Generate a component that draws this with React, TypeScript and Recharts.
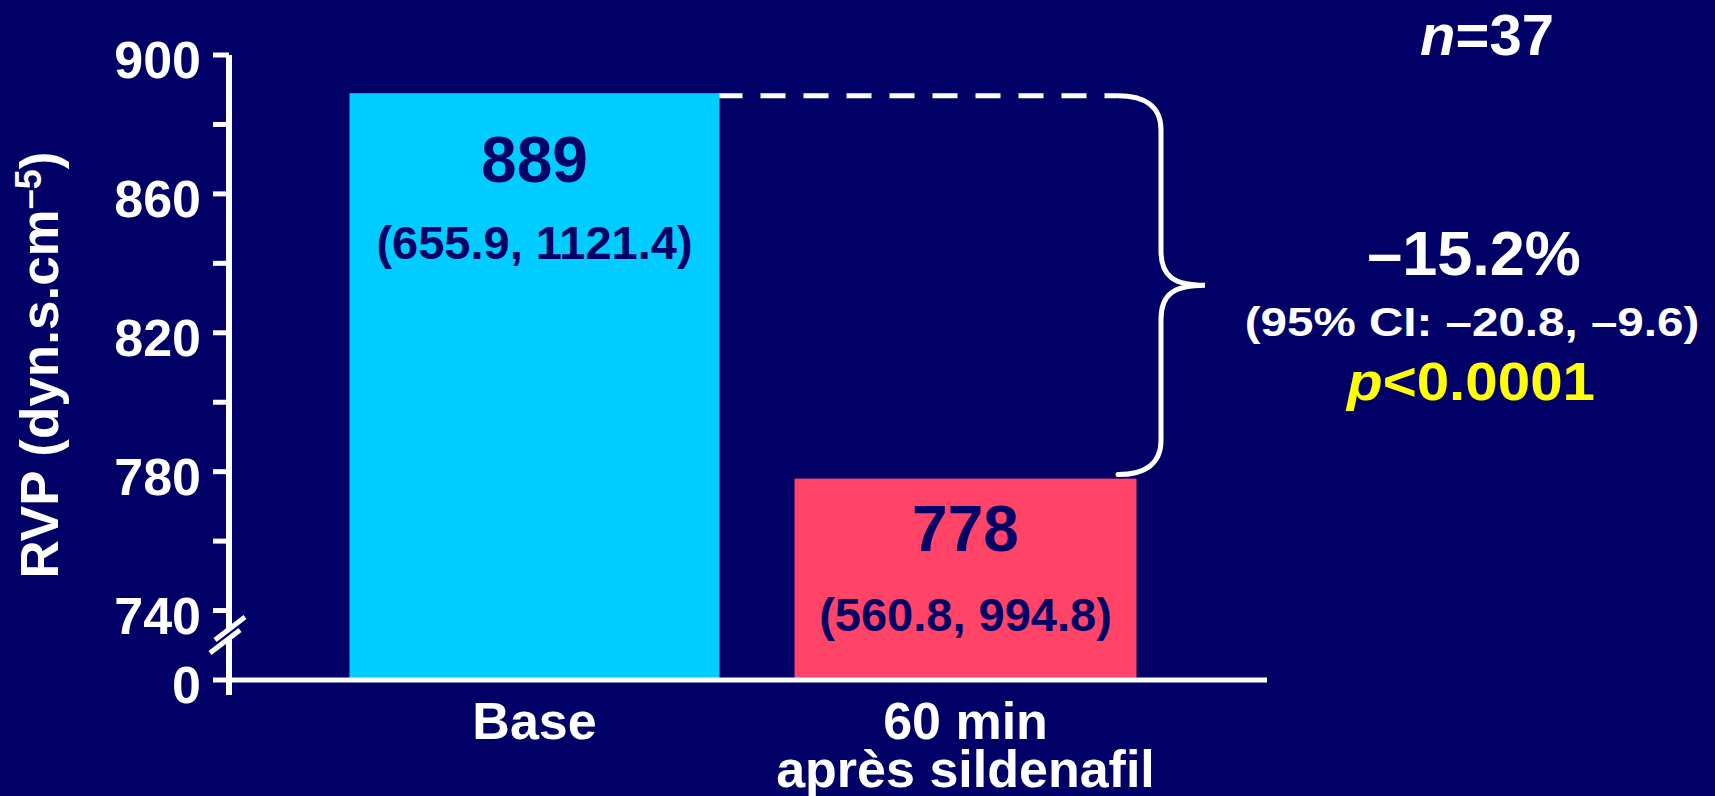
import React from 'react';
import {
  BarChart,
  Bar,
  XAxis,
  YAxis,
  LabelList,
  ReferenceArea,
} from 'recharts';

// RVP before / 60 min after sildenafil (geometric mean, 95% CI)
const categories = ['Base', '60 min après sildenafil'];
const tickLines = [['Base'], ['60 min', 'après sildenafil']];
const meanRvp = [889, 778];
const ciLow = [655.9, 560.8];
const ciHigh = [1121.4, 994.8];

// broken axis: the domain floor (720) is labelled "0"
const yTicks = [720, 740, 760, 780, 800, 820, 840, 860, 880, 900];
const yTickLabels = ['0', '740', '', '780', '', '820', '', '860', '', '900'];

const nPatients = 37;
const pctChange = -15.2;
const pctCiLow = -20.8;
const pctCiHigh = -9.6;
const pValue = '0.0001';

const W = 1715;
const H = 796;
const BG = '#000066';
const INK = '#000066';
const FONT = '"Liberation Sans", Arial, Helvetica, sans-serif';
const BAR_COLORS = ['#00CCFF', '#FF4468'];
const BAR_WIDTHS = [370, 342];
const LABEL_DY = [
  [89, 166],
  [72, 152],
];

const MARGIN = { top: 55, right: 448, bottom: 0, left: 0 };
const Y_AXIS_W = 229;
const X_AXIS_H = 116;
const PAD = { left: 90, right: 86 };
const PLOT_LEFT = MARGIN.left + Y_AXIS_W;
const PLOT_BOTTOM = H - MARGIN.bottom - X_AXIS_H;

const dash = (v: number) => (v < 0 ? '\u2013' + Math.abs(v).toFixed(1) : v.toFixed(1));

const rows = categories.map((c, i) => ({
  label: c,
  rvp: meanRvp[i],
  ci: `(${ciLow[i].toFixed(1)}, ${ciHigh[i].toFixed(1)})`,
}));

const YTick = (props: any) => {
  const { x, y, index } = props;
  const txt = yTickLabels[index];
  if (!txt) return null;
  return (
    <text x={x} y={y + 23} textAnchor="end" fontSize={52} fontWeight="bold" fill="#fff" fontFamily={FONT}>
      {txt}
    </text>
  );
};

const XTick = (props: any) => {
  const { x, y, payload } = props;
  const i = categories.indexOf(payload.value);
  const lines = tickLines[i] || [payload.value];
  return (
    <text x={x} y={y + 59} textAnchor="middle" fontSize={52} fontWeight="bold" fill="#fff" fontFamily={FONT}>
      {lines.map((l, k) => (
        <tspan key={k} x={x} dy={k === 0 ? 0 : 48}>
          {l}
        </tspan>
      ))}
    </text>
  );
};

// bars are narrower than the band and differ in width
const BarShape = (props: any) => {
  const { x, y, width, height, index } = props;
  const cx = x + width / 2;
  const w = BAR_WIDTHS[index];
  return <rect x={cx - w / 2} y={y} width={w} height={height} fill={BAR_COLORS[index]} />;
};

const MeanLabel = (props: any) => {
  const { x, y, width, value, index } = props;
  return (
    <text x={x + width / 2} y={y + LABEL_DY[index][0]} textAnchor="middle" fontSize={64} fontWeight="bold" fill={INK} fontFamily={FONT}>
      {value}
    </text>
  );
};

const CiLabel = (props: any) => {
  const { x, y, width, value, index } = props;
  return (
    <text x={x + width / 2} y={y + LABEL_DY[index][1]} textAnchor="middle" fontSize={47} fontWeight="bold" fill={INK} fontFamily={FONT}>
      {value}
    </text>
  );
};

// dashed leader from the Base bar plus curly brace down to the second bar.
// The area spans the padded category range, so x..x+width covers both bands.
const Brace = (props: any) => {
  const { x, y, width, height } = props;
  const right = x + width + PAD.right;
  const band = width / 2;
  const leaderStart = x + band / 2 + BAR_WIDTHS[0] / 2 - 2;
  const xs = right - 149;
  const xv = xs + 43;
  const xt = xs + 87;
  const yt = y + 2.5;
  const yb = y + height - 4;
  const ym = (yt + yb) / 2;
  const r = 34;
  const d = [
    `M ${xs} ${yt}`,
    `C ${xs + 26} ${yt} ${xv} ${yt + 10} ${xv} ${yt + r}`,
    `L ${xv} ${ym - r}`,
    `C ${xv} ${ym - 8} ${xt - 30} ${ym} ${xt} ${ym}`,
    `C ${xt - 30} ${ym} ${xv} ${ym + 8} ${xv} ${ym + r}`,
    `L ${xv} ${yb - r}`,
    `C ${xv} ${yb - 10} ${xs + 26} ${yb} ${xs} ${yb}`,
  ].join(' ');
  return (
    <g>
      <line x1={leaderStart} y1={yt} x2={xs - 1} y2={yt} stroke="#fff" strokeWidth={5} strokeDasharray="25 18" />
      <path d={d} fill="none" stroke="#fff" strokeWidth={5} strokeLinecap="round" />
    </g>
  );
};

export default function App() {
  const bx = PLOT_LEFT;
  const by = PLOT_BOTTOM - 45;
  return (
    <div style={{ position: 'absolute', left: 0, top: 0, width: W, height: H, background: BG, fontFamily: FONT }}>
      <BarChart width={W} height={H} data={rows} margin={MARGIN} barCategoryGap={0}>
        <XAxis
          dataKey="label"
          height={X_AXIS_H}
          padding={PAD}
          tickLine={false}
          tickSize={0}
          tickMargin={0}
          interval={0}
          axisLine={{ stroke: '#fff', strokeWidth: 5 }}
          tick={<XTick />}
        />
        <YAxis
          type="number"
          width={Y_AXIS_W}
          domain={[720, 900]}
          ticks={yTicks}
          interval={0}
          tickSize={16}
          tickMargin={12}
          tickLine={{ stroke: '#fff', strokeWidth: 5 }}
          axisLine={{ stroke: '#fff', strokeWidth: 6 }}
          tick={<YTick />}
        />
        <Bar dataKey="rvp" shape={<BarShape />} isAnimationActive={false}>
          <LabelList dataKey="rvp" content={<MeanLabel />} />
          <LabelList dataKey="ci" content={<CiLabel />} />
        </Bar>
        <ReferenceArea
          y1={meanRvp[1]}
          y2={meanRvp[0]}
          ifOverflow="visible"
          shape={<Brace />}
        />
      </BarChart>

      <svg
        width={W}
        height={H}
        style={{ position: 'absolute', left: 0, top: 0, pointerEvents: 'none' }}
        fontFamily={FONT}
        fontWeight="bold"
      >
        {/* axis label */}
        <text transform="translate(58,365) rotate(-90)" textAnchor="middle" fontSize={53} fill="#fff">
          RVP (dyn.s.cm
          <tspan fontSize={36} dy={-17}>
            {'\u20135'}
          </tspan>
          <tspan dy={17}>)</tspan>
        </text>

        {/* axis break and stub below the x axis */}
        <line x1={bx} y1={PLOT_BOTTOM} x2={bx} y2={PLOT_BOTTOM + 15} stroke="#fff" strokeWidth={6} />
        <polygon
          points={`${bx - 14},${by + 5} ${bx + 16},${by - 18} ${bx + 11},${by - 5} ${bx - 19},${by + 18}`}
          fill={BG}
        />
        <line x1={bx - 14} y1={by + 5} x2={bx + 16} y2={by - 18} stroke="#fff" strokeWidth={5} />
        <line x1={bx - 19} y1={by + 18} x2={bx + 11} y2={by - 5} stroke="#fff" strokeWidth={5} />

        <text x={1487} y={55} textAnchor="middle" fontSize={58} fill="#fff">
          <tspan fontStyle="italic">n</tspan>={nPatients}
        </text>

        <text x={1474} y={275} textAnchor="middle" fontSize={63} fill="#fff">
          {dash(pctChange)}%
        </text>
        <text transform="translate(1472,336) scale(1.16,1)" textAnchor="middle" fontSize={41} fill="#fff">
          (95% CI: {dash(pctCiLow)}, {dash(pctCiHigh)})
        </text>
        <text transform="translate(1471,400) scale(1.1,1)" textAnchor="middle" fontSize={53} fill="#FFFF00">
          <tspan fontStyle="italic">p</tspan>&lt;{pValue}
        </text>
      </svg>
    </div>
  );
}
